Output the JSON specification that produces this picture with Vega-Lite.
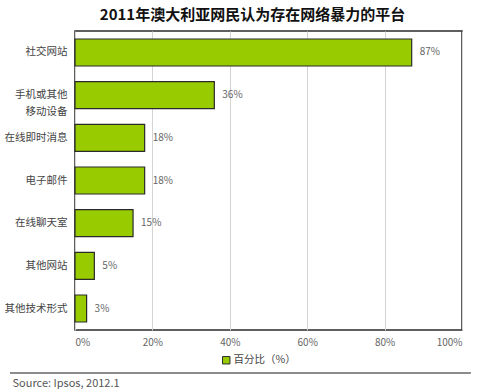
{
  "$schema": "https://vega.github.io/schema/vega-lite/v6.json",
  "autosize": {"type": "none"},
  "width": 387,
  "height": 299,
  "padding": {"left": 75, "top": 31, "right": 15, "bottom": 59},
  "background": "white",
  "config": {
    "font": "Noto Sans CJK SC",
    "view": {"stroke": "#2b2b2b", "strokeWidth": 1.5},
    "axis": {"labelColor": "#555555", "labelFont": "Noto Sans CJK SC"}
  },
  "title": {
    "text": "2011年澳大利亚网民认为存在网络暴力的平台",
    "fontSize": 15,
    "fontWeight": "bold",
    "color": "#111111",
    "anchor": "middle",
    "frame": "group",
    "offset": 8,
    "dx": -16
  },
  "layer": [
    {
      "data": {
        "values": [
          {"platform": "社交网站", "pct": 87},
          {"platform": "手机或其他移动设备", "pct": 36},
          {"platform": "在线即时消息", "pct": 18},
          {"platform": "电子邮件", "pct": 18},
          {"platform": "在线聊天室", "pct": 15},
          {"platform": "其他网站", "pct": 5},
          {"platform": "其他技术形式", "pct": 3}
        ]
      },
      "transform": [{"calculate": "datum.pct + '%'", "as": "pct_label"}],
      "encoding": {
        "y": {
          "field": "platform",
          "type": "nominal",
          "sort": null,
          "scale": {"paddingInner": 0.367, "paddingOuter": 0.187},
          "axis": {
            "title": null,
            "domain": false,
            "ticks": false,
            "labelPadding": 8,
            "labelFontSize": 10.5,
            "labelColor": "#444444",
            "labelLineHeight": 17,
            "labelExpr": "datum.label == '手机或其他移动设备' ? ['手机或其他', '移动设备'] : datum.label"
          }
        },
        "x": {
          "field": "pct",
          "type": "quantitative",
          "scale": {"domain": [0, 100]},
          "axis": {
            "values": [0, 20, 40, 60, 80, 100],
            "labelExpr": "datum.value + '%'",
            "grid": true,
            "gridColor": "#d4d4d4",
            "gridWidth": 1,
            "domain": false,
            "ticks": false,
            "labelPadding": 7,
            "labelFontSize": 10,
            "labelColor": "#666666",
            "title": "Source: Ipsos,  2012.1",
            "titleFontSize": 11,
            "titleFontWeight": "normal",
            "titleColor": "#555555",
            "titleAnchor": "start",
            "titleAlign": "left",
            "titleBaseline": "middle",
            "titleX": -63,
            "titleY": 53
          }
        }
      },
      "layer": [
        {
          "mark": {"type": "bar", "stroke": "#2a2a2a", "strokeWidth": 1.2},
          "encoding": {
            "color": {
              "datum": "百分比（%）",
              "scale": {"range": ["#99cc00"]},
              "legend": {
                "title": null,
                "orient": "none",
                "legendX": 146,
                "legendY": 324,
                "symbolType": "square",
                "symbolSize": 55,
                "symbolStrokeColor": "#2a2a2a",
                "symbolStrokeWidth": 1,
                "labelFontSize": 10.5,
                "labelColor": "#444444",
                "labelOffset": 2
              }
            }
          }
        },
        {
          "mark": {"type": "text", "align": "left", "dx": 8, "fontSize": 10, "color": "#666666"},
          "encoding": {
            "text": {"field": "pct_label", "type": "nominal"}
          }
        }
      ]
    },
    {
      "data": {"values": [{"x0": -16.8, "x1": 102.3, "level": -0.1438}]},
      "mark": {"type": "rule", "color": "#8c8c8c", "strokeWidth": 2, "clip": false},
      "encoding": {
        "x": {"field": "x0", "type": "quantitative"},
        "x2": {"field": "x1"},
        "y": {"field": "level", "type": "quantitative", "scale": {"domain": [0, 1]}, "axis": null}
      }
    }
  ],
  "resolve": {"scale": {"y": "independent"}, "axis": {"y": "independent"}}
}
